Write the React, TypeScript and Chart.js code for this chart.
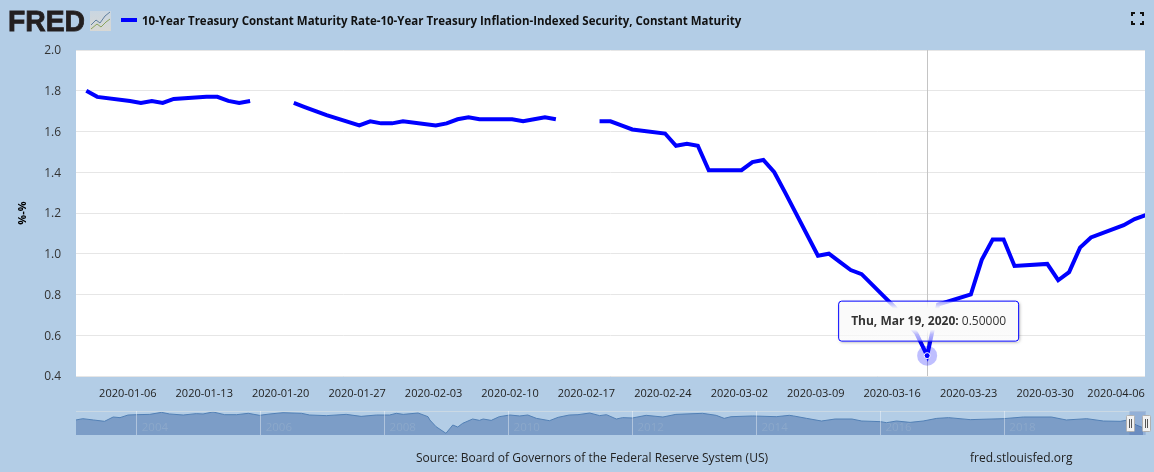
import React, { useEffect, useRef } from "react";
import { Chart, registerables } from "chart.js";

Chart.register(...registerables);

const seriesLabel = "10-Year Treasury Constant Maturity Rate-10-Year Treasury Inflation-Indexed Security, Constant Maturity";
const yAxisTitle = "%-%";
const sourceText = "Source: Board of Governors of the Federal Reserve System (US)";
const siteText = "fred.stlouisfed.org";
const tooltipDate = "Thu, Mar 19, 2020:";
const highlightDate = "2020-03-19";

const dates = [
  "2020-01-02","2020-01-03",
  "2020-01-06","2020-01-07","2020-01-08","2020-01-09","2020-01-10",
  "2020-01-13","2020-01-14","2020-01-15","2020-01-16","2020-01-17",
  "2020-01-20","2020-01-21","2020-01-22","2020-01-23","2020-01-24",
  "2020-01-27","2020-01-28","2020-01-29","2020-01-30","2020-01-31",
  "2020-02-03","2020-02-04","2020-02-05","2020-02-06","2020-02-07",
  "2020-02-10","2020-02-11","2020-02-12","2020-02-13","2020-02-14",
  "2020-02-17","2020-02-18","2020-02-19","2020-02-20","2020-02-21",
  "2020-02-24","2020-02-25","2020-02-26","2020-02-27","2020-02-28",
  "2020-03-02","2020-03-03","2020-03-04","2020-03-05","2020-03-06",
  "2020-03-09","2020-03-10","2020-03-11","2020-03-12","2020-03-13",
  "2020-03-16","2020-03-17","2020-03-18","2020-03-19","2020-03-20",
  "2020-03-23","2020-03-24","2020-03-25","2020-03-26","2020-03-27",
  "2020-03-30","2020-03-31","2020-04-01","2020-04-02","2020-04-03",
  "2020-04-06","2020-04-07","2020-04-08",
];

const values: (number | null)[] = [
  1.80,1.77,
  1.75,1.74,1.75,1.74,1.76,
  1.77,1.77,1.75,1.74,1.75,
  null,1.74,1.72,1.70,1.68,
  1.63,1.65,1.64,1.64,1.65,
  1.63,1.64,1.66,1.67,1.66,
  1.66,1.65,1.66,1.67,1.66,
  null,1.65,1.65,1.63,1.61,
  1.59,1.53,1.54,1.53,1.41,
  1.41,1.45,1.46,1.40,1.30,
  0.99,1.00,0.96,0.92,0.90,
  0.74,0.67,0.61,0.50,0.75,
  0.80,0.97,1.07,1.07,0.94,
  0.95,0.87,0.91,1.03,1.08,
  1.14,1.17,1.19,
];

const tickDates = [
  "2020-01-06","2020-01-13","2020-01-20","2020-01-27","2020-02-03","2020-02-10","2020-02-17",
  "2020-02-24","2020-03-02","2020-03-09","2020-03-16","2020-03-23","2020-03-30","2020-04-06",
];

const navYears = [
  2003.02,2003.13,2003.30,2003.48,2003.62,2003.73,2003.86,2004.00,2004.21,2004.40,2004.53,2004.75,2004.96,
  2005.07,2005.23,2005.42,2005.61,2005.80,2005.98,2006.15,2006.36,2006.66,2006.79,2007.06,2007.38,2007.62,
  2007.87,2008.08,2008.19,2008.30,2008.54,2008.70,2008.73,2008.83,2008.99,2009.10,2009.18,2009.26,2009.42,
  2009.53,2009.59,2009.72,2009.85,2010.02,2010.18,2010.31,2010.45,2010.66,2010.80,2010.98,2011.12,2011.31,
  2011.47,2011.58,2011.74,2011.84,2012.00,2012.22,2012.49,2012.70,2013.13,2013.35,2013.48,2013.59,2013.94,
  2014.32,2014.53,2014.60,2014.81,2015.05,2015.27,2015.54,2015.70,2016.00,2016.10,2016.26,2016.48,2016.69,
  2016.91,2017.10,2017.45,2017.98,2018.31,2018.76,2019.00,2019.33,2019.60,2019.87,2020.00,2020.13,2020.24,
];

const navValues = [
  1.88,2.04,1.88,1.71,2.25,2.17,2.50,2.54,2.58,2.83,2.63,2.50,2.67,
  2.63,2.88,2.54,2.54,2.71,2.46,2.63,2.79,2.71,2.50,2.42,2.58,2.33,
  2.50,2.50,2.71,2.58,2.75,2.29,1.88,1.04,0.21,1.25,1.00,1.46,2.00,
  1.83,2.00,1.83,2.29,2.50,2.38,2.50,2.08,1.79,2.21,2.50,2.54,2.75,
  2.42,2.54,2.00,2.17,2.13,2.46,2.25,2.58,2.71,2.46,2.08,2.29,2.38,
  2.29,2.46,2.38,2.08,1.75,2.00,2.00,1.75,1.67,1.54,1.75,1.58,1.75,
  2.08,2.17,1.92,2.04,2.25,2.25,1.88,2.04,1.75,1.71,1.88,1.25,0.90,
];

const navTickYears = [2004, 2006, 2008, 2010, 2012, 2014, 2016, 2018];
const navSelection = [2020.02, 2020.28];

const BG = "#b3cde6";
const FONT = "'Open Sans', sans-serif";
const DAY = 86400000;
const toDay = (s: string) => Date.parse(s + "T00:00:00Z") / DAY;

export default function App() {
  const mainRef = useRef<HTMLCanvasElement>(null);
  const navRef = useRef<HTMLCanvasElement>(null);

  useEffect(() => {
    document.body.style.margin = "0";
    document.body.style.background = BG;

    const highlightIdx = dates.indexOf(highlightDate);
    const firstTick = toDay(tickDates[0]);

    const decor = {
      id: "decor",
      beforeDraw(chart: any) {
        const { ctx, chartArea: a } = chart;
        ctx.save();
        ctx.fillStyle = "#ffffff";
        ctx.fillRect(a.left, a.top, a.right - a.left, a.bottom - a.top);
        ctx.restore();
      },
      beforeDatasetsDraw(chart: any) {
        const { ctx, chartArea: a } = chart;
        const p = chart.getDatasetMeta(0).data[highlightIdx];
        ctx.save();
        ctx.strokeStyle = "#c4c4c4";
        ctx.lineWidth = 1;
        ctx.beginPath();
        ctx.moveTo(Math.round(p.x) + 0.5, a.top);
        ctx.lineTo(Math.round(p.x) + 0.5, a.bottom);
        ctx.stroke();
        ctx.fillStyle = "rgba(0,0,255,0.25)";
        ctx.beginPath();
        ctx.arc(p.x, p.y, 10, 0, Math.PI * 2);
        ctx.fill();
        ctx.restore();
      },
      afterDraw(chart: any) {
        const { ctx } = chart;
        const p = chart.getDatasetMeta(0).data[highlightIdx];
        ctx.save();

        // logo
        ctx.fillStyle = "#231f20";
        ctx.strokeStyle = "#231f20";
        ctx.lineWidth = 0.8;
        ctx.font = "bold 29px 'Liberation Sans'";
        ctx.textBaseline = "alphabetic";
        ctx.textAlign = "left";
        ctx.fillText("FRED", 8, 31, 77);
        ctx.strokeText("FRED", 8, 31, 77);
        const g = ctx.createLinearGradient(0, 10, 0, 31);
        g.addColorStop(0, "#c9d6e2");
        g.addColorStop(1, "#d8d8d4");
        ctx.fillStyle = g;
        ctx.fillRect(90, 11, 21, 20);
        ctx.lineWidth = 1;
        ctx.strokeStyle = "#5f7f9f";
        ctx.beginPath();
        ctx.moveTo(91, 25); ctx.lineTo(96, 20); ctx.lineTo(100, 23); ctx.lineTo(105, 16); ctx.lineTo(110, 12);
        ctx.stroke();
        ctx.strokeStyle = "#8aa35a";
        ctx.beginPath();
        ctx.moveTo(91, 29); ctx.lineTo(97, 24); ctx.lineTo(101, 27); ctx.lineTo(106, 22); ctx.lineTo(110, 19);
        ctx.stroke();

        // legend
        ctx.strokeStyle = "#0000ff";
        ctx.lineWidth = 4;
        ctx.beginPath();
        ctx.moveTo(121, 20);
        ctx.lineTo(137, 20);
        ctx.stroke();
        ctx.fillStyle = "#111111";
        ctx.font = `700 11.5px ${FONT}`;
        ctx.textBaseline = "middle";
        ctx.fillText(seriesLabel, 142, 22);

        // fullscreen icon
        ctx.strokeStyle = "#111111";
        ctx.lineWidth = 2;
        const L = 1132, R = 1143, T = 13, B = 24, S = 3;
        for (const [x, y, dx, dy] of [[L, T, 1, 1], [R, T, -1, 1], [L, B, 1, -1], [R, B, -1, -1]]) {
          ctx.beginPath();
          ctx.moveTo(x + dx * S, y);
          ctx.lineTo(x, y);
          ctx.lineTo(x, y + dy * S);
          ctx.stroke();
        }

        // footer
        ctx.fillStyle = "#222222";
        ctx.font = `12px ${FONT}`;
        ctx.fillText(sourceText, 416, 459);
        ctx.fillText(siteText, 970, 459);

        // tooltip
        const bx = p.x - 89, by = p.y - 55, bw = 180, bh = 40;
        const tg = ctx.createLinearGradient(0, by, 0, by + bh);
        tg.addColorStop(0, "rgba(250,250,250,0.6)");
        tg.addColorStop(0.2, "rgba(250,250,250,1)");
        tg.addColorStop(0.72, "rgba(250,250,250,1)");
        tg.addColorStop(0.85, "rgba(250,250,250,0.72)");
        tg.addColorStop(1, "rgba(250,250,250,0.6)");
        // shadow only outside the box, so the translucent edges stay clean
        ctx.save();
        ctx.beginPath();
        ctx.rect(0, 0, chart.width, chart.height);
        ctx.rect(bx, by, bw + 1, bh + 1);
        ctx.clip("evenodd");
        ctx.shadowColor = "rgba(0,0,0,0.35)";
        ctx.shadowBlur = 3;
        ctx.shadowOffsetX = 1;
        ctx.shadowOffsetY = 1;
        ctx.fillStyle = "#ffffff";
        ctx.beginPath();
        ctx.roundRect(bx + 0.5, by + 0.5, bw, bh, 3);
        ctx.fill();
        ctx.restore();
        ctx.fillStyle = tg;
        ctx.beginPath();
        ctx.roundRect(bx + 0.5, by + 0.5, bw, bh, 3);
        ctx.fill();
        ctx.strokeStyle = "#0000ff";
        ctx.lineWidth = 1;
        ctx.beginPath();
        ctx.roundRect(bx + 0.5, by + 0.5, bw, bh, 3);
        ctx.stroke();
        ctx.fillStyle = "#333333";
        ctx.font = `700 12px ${FONT}`;
        ctx.textBaseline = "middle";
        const tx = bx + 13, ty = by + 20.5;
        ctx.fillText(tooltipDate + " ", tx, ty);
        const w = ctx.measureText(tooltipDate + " ").width;
        ctx.font = `12px ${FONT}`;
        ctx.fillText((values[highlightIdx] as number).toFixed(5), tx + w, ty);
        ctx.restore();
      },
    };

    const main = new Chart(mainRef.current!, {
      type: "line",
      data: {
        datasets: [
          {
            label: seriesLabel,
            data: dates.map((d, i) => ({ x: toDay(d), y: values[i] })) as any,
            borderColor: "#0000ff",
            backgroundColor: "#0000ff",
            borderWidth: 4,
            tension: 0,
            spanGaps: false,
            pointRadius: (c: any) => (c.dataIndex === highlightIdx ? 3 : 0),
            pointBackgroundColor: "#0000ff",
            pointBorderColor: "#ffffff",
            pointBorderWidth: 1,
          },
        ],
      },
      options: {
        responsive: false,
        animation: false,
        events: [],
        layout: { padding: { top: 50, right: 9, left: 0, bottom: 0 } },
        plugins: { legend: { display: false }, tooltip: { enabled: false } },
        scales: {
          x: {
            type: "linear",
            min: firstTick - 4.945,
            max: firstTick + 92.95,
            grid: { display: false },
            border: { display: false },
            afterFit: (s: any) => { s.height = 96; },
            afterBuildTicks: (s: any) => {
              s.ticks = tickDates.map((d, i) => ({
                value: toDay(d) - (i === tickDates.length - 1 ? 0.7 : 0.2),
              }));
            },
            ticks: {
              autoSkip: false,
              maxRotation: 0,
              padding: 3,
              color: "#222222",
              font: { family: FONT, size: 11 },
              callback: (_v: any, i: number) => tickDates[i],
            },
          },
          y: {
            min: 0.4,
            max: 2.0,
            grid: { color: "#e6e6e6", lineWidth: 1, drawTicks: false },
            border: { display: false },
            afterFit: (s: any) => { s.width = 76; },
            title: {
              display: true,
              text: yAxisTitle,
              color: "#000000",
              font: { family: FONT, size: 11, weight: "bold" },
              padding: { top: 16, bottom: 0 },
            },
            ticks: {
              stepSize: 0.2,
              padding: 15,
              labelOffset: 1,
              color: "#333333",
              font: { family: FONT, size: 12 },
              callback: (v: any) => Number(v).toFixed(1),
            },
          },
        },
      },
      plugins: [decor],
    } as any);

    const navDecor = {
      id: "navDecor",
      afterDatasetsDraw(chart: any) {
        const { ctx, chartArea: a, scales } = chart;
        const x0 = scales.x.getPixelForValue(navSelection[0]);
        const x1 = scales.x.getPixelForValue(navSelection[1]);
        ctx.save();
        ctx.fillStyle = "rgba(214,222,226,0.7)";
        ctx.fillRect(a.left, a.top, a.right - a.left, 1);
        ctx.fillStyle = "rgba(51,92,173,0.25)";
        ctx.fillRect(x0, a.top, x1 - x0, a.bottom - a.top);
        ctx.fillStyle = "rgba(150,175,205,0.6)";
        ctx.font = `11.5px ${FONT}`;
        ctx.textBaseline = "middle";
        for (const y of navTickYears) {
          ctx.fillText(String(y), scales.x.getPixelForValue(y) + 5, a.top + 16.5);
        }
        for (const x of [x0, x1]) {
          const cx = Math.round(x);
          ctx.fillStyle = "#f2f2f2";
          ctx.strokeStyle = "#b0b0b0";
          ctx.lineWidth = 1;
          ctx.beginPath();
          ctx.roundRect(cx - 3.5, a.top + 4.5, 8, 16, 1);
          ctx.fill();
          ctx.stroke();
          ctx.strokeStyle = "#555555";
          ctx.beginPath();
          ctx.moveTo(cx - 0.5, a.top + 8);
          ctx.lineTo(cx - 0.5, a.top + 17);
          ctx.moveTo(cx + 1.5, a.top + 8);
          ctx.lineTo(cx + 1.5, a.top + 17);
          ctx.stroke();
        }
        ctx.restore();
      },
    };

    const nav = new Chart(navRef.current!, {
      type: "line",
      data: {
        datasets: [
          {
            data: navYears.map((y, i) => ({ x: y, y: navValues[i] })) as any,
            borderColor: "#5280b5",
            borderWidth: 1,
            backgroundColor: "#7c9dc7",
            fill: "origin",
            pointRadius: 0,
            tension: 0,
          },
        ],
      },
      options: {
        responsive: false,
        animation: false,
        events: [],
        layout: { padding: { left: 76, right: 9, top: 6, bottom: 0 } },
        plugins: { legend: { display: false }, tooltip: { enabled: false } },
        scales: {
          x: {
            type: "linear",
            min: 2003.02,
            max: 2020.27,
            afterFit: (s: any) => { s.height = 0; },
            afterBuildTicks: (s: any) => {
              s.ticks = navTickYears.map((value) => ({ value }));
            },
            grid: { color: "rgba(255,255,255,0.4)", drawTicks: false, z: 1 },
            border: { display: false },
            ticks: { display: false },
          },
          y: {
            min: 0,
            max: 3,
            display: false,
          },
        },
      },
      plugins: [navDecor],
    } as any);

    return () => {
      main.destroy();
      nav.destroy();
    };
  }, []);

  return (
    <div style={{ position: "absolute", left: 0, top: 0, width: 1154, height: 472, background: BG, overflow: "hidden" }}>
      <canvas ref={mainRef} width={1154} height={472} style={{ position: "absolute", left: 0, top: 0 }} />
      <canvas ref={navRef} width={1154} height={30} style={{ position: "absolute", left: 0, top: 405 }} />
    </div>
  );
}
